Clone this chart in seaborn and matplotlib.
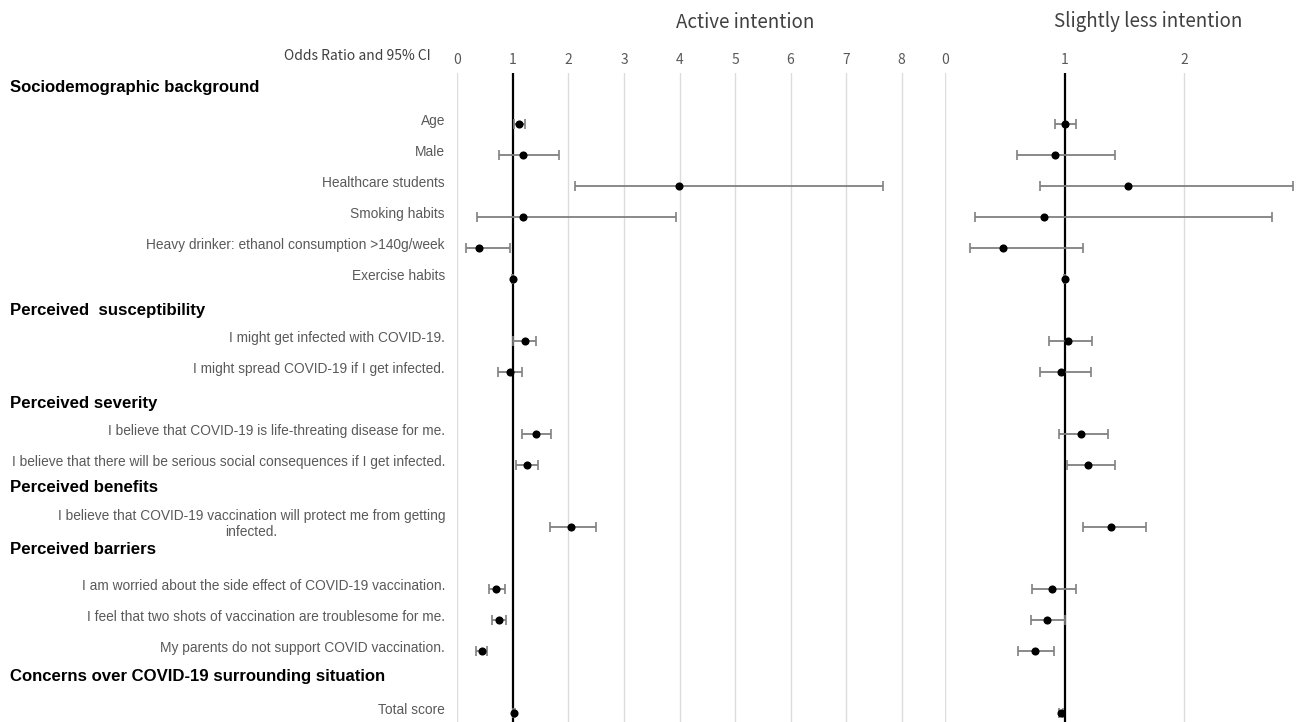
import matplotlib
matplotlib.use("Agg")
import matplotlib.pyplot as plt
import matplotlib.transforms as mtransforms
import seaborn as sns
import pandas as pd
import numpy as np

# ---------------- data ----------------
items = [
    "Age",
    "Male",
    "Healthcare students",
    "Smoking habits",
    "Heavy drinker: ethanol consumption >140g/week",
    "Exercise habits",
    "I might get infected with COVID-19.",
    "I might spread COVID-19 if I get infected.",
    "I believe that COVID-19 is life-threating disease for me.",
    "I believe that there will be serious social consequences if I get infected.",
    "I believe that COVID-19 vaccination will protect me from getting\ninfected.",
    "I am worried about the side effect of COVID-19 vaccination.",
    "I feel that two shots of vaccination are troublesome for me.",
    "My parents do not support COVID vaccination.",
    "Total score",
]
# row slot of each item (vertical order on the chart)
item_rows = [1, 2, 3, 4, 5, 6, 8, 9, 11, 12, 14, 16, 17, 18, 20]

headings = [
    "Sociodemographic background",
    "Perceived  susceptibility",
    "Perceived severity",
    "Perceived benefits",
    "Perceived barriers",
    "Concerns over COVID-19 surrounding situation",
]
heading_rows = [-0.19, 7.0, 10.03, 12.71, 14.74, 18.81]

active_or = [1.11, 1.19, 3.99, 1.18, 0.39, 1.00, 1.21, 0.94, 1.41, 1.25, 2.05, 0.70, 0.745, 0.44, 1.02]
active_lo = [1.02, 0.756, 2.11, 0.35, 0.16, 0.99, 1.00, 0.74, 1.16, 1.05, 1.66, 0.565, 0.62, 0.34, 1.00]
active_hi = [1.22, 1.825, 7.67, 3.94, 0.94, 1.01, 1.42, 1.16, 1.69, 1.46, 2.50, 0.865, 0.87, 0.53, 1.04]

less_or = [1.005, 0.92, 1.526, 0.83, 0.485, 1.00, 1.03, 0.97, 1.14, 1.195, 1.39, 0.896, 0.85, 0.75, 0.97]
less_lo = [0.92, 0.60, 0.796, 0.248, 0.209, 0.995, 0.869, 0.79, 0.95, 1.017, 1.15, 0.73, 0.72, 0.61, 0.955]
less_hi = [1.097, 1.42, 2.907, 2.735, 1.15, 1.005, 1.228, 1.22, 1.36, 1.42, 1.68, 1.097, 1.00, 0.91, 0.985]

active_ticks = [0, 1, 2, 3, 4, 5, 6, 7, 8]
less_ticks = [0, 1, 2]

# ---------------- style ----------------
sns.set_theme(style="white")
plt.rcParams["font.family"] = ["Liberation Sans", "DejaVu Sans"]

W, H = 1299, 722
fig = plt.figure(figsize=(W / 100, H / 100), dpi=100)

top_px = 73
row0_px = 93
row_px = 31
ylim = ((H - row0_px) / row_px, (top_px - row0_px) / row_px)


def px_x(x):
    return x / W


def make_panel(left_px, right_px, xmax, ticks, title, ors, los, his, title_x_px):
    ax = fig.add_axes([px_x(left_px), 0, px_x(right_px - left_px), 1 - top_px / H])
    df = pd.DataFrame({"row": item_rows, "or": ors, "lo": los, "hi": his})
    for t in ticks:
        if t != 1:
            ax.axvline(t, color="#dcdcdc", lw=1.0, zorder=0)
    ax.axvline(1, color="black", lw=1.6, zorder=1)
    ax.errorbar(df["or"], df["row"],
                xerr=[df["or"] - df["lo"], df["hi"] - df["or"]],
                fmt="none", ecolor="#808080", elinewidth=1.3, capsize=3.5,
                capthick=1.2, zorder=2)
    sns.scatterplot(data=df, x="or", y="row", ax=ax, color="black", s=34,
                    edgecolor="black", linewidth=0, zorder=3, clip_on=False)
    ax.set_xlim(0, xmax)
    ax.set_ylim(*ylim)
    ax.set_xticks(ticks)
    ax.set_xticklabels([str(t) for t in ticks])
    ax.xaxis.tick_top()
    ax.tick_params(axis="x", length=0, pad=4, labelsize=10, colors="#595959")
    for lab in ax.get_xticklabels():
        lab.set_family(["Noto Sans CJK JP", "DejaVu Sans"])
    ax.set_yticks([])
    ax.set_xlabel("")
    ax.set_ylabel("")
    for s in ax.spines.values():
        s.set_visible(False)
    ax.patch.set_alpha(0)
    fig.text(px_x(title_x_px), 1 - 22 / H, title, ha="center", va="center",
             fontsize=13.5, color="#404040", family=["Noto Sans CJK JP", "DejaVu Sans"])
    return ax


axL = make_panel(457.3, 940.6, 8.7, active_ticks, "Active intention",
                 active_or, active_lo, active_hi, 745)
axR = make_panel(945, 1299, (1299 - 945) / 119.7, less_ticks, "Slightly less intention",
                 less_or, less_lo, less_hi, 1148)

fig.text(px_x(431), 1 - 56 / H, "Odds Ratio and 95% CI", ha="right", va="center",
         fontsize=10, color="#404040", family=["Noto Sans CJK JP", "DejaVu Sans"])

trans = mtransforms.blended_transform_factory(fig.transFigure, axL.transData)
for lab, r in zip(items, item_rows):
    axL.text(px_x(445), r - 0.1, lab, transform=trans, ha="right", va="center",
             fontsize=9.9, color="#595959", multialignment="center", clip_on=False)
for lab, r in zip(headings, heading_rows):
    axL.text(px_x(10), r, lab, transform=trans, ha="left", va="center",
             fontsize=12.1, fontweight="bold", color="black", clip_on=False)

fig.savefig("out.png", dpi=100)
